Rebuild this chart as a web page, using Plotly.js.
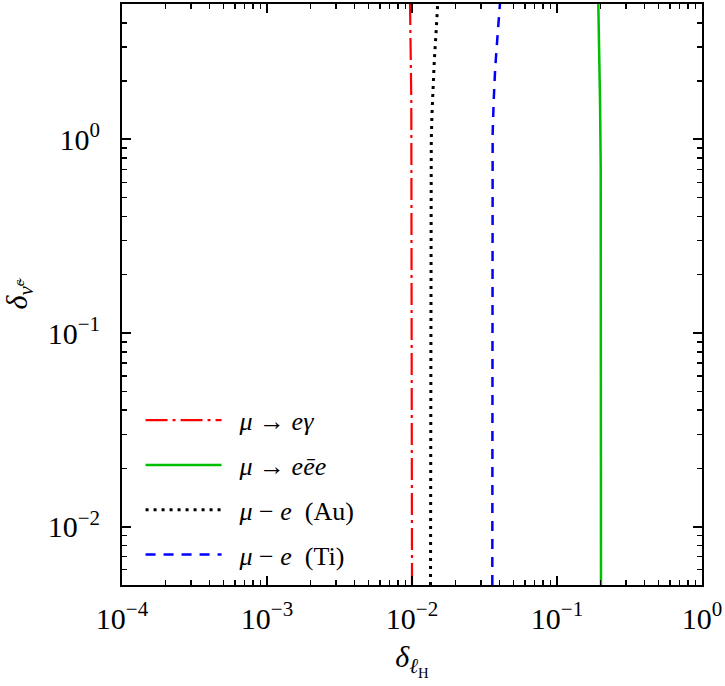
<!DOCTYPE html>
<html>
<head>
<meta charset="utf-8">
<script src="https://cdn.plot.ly/plotly-3.0.1.min.js"></script>
<style>
  html, body { margin: 0; padding: 0; background: #fff; }
  #chart { width: 725px; height: 686px; }
</style>
</head>
<body>
<div id="chart"></div>
<script>
// Exclusion contours in the (delta_lH, delta_nu^c) plane, one curve per process.
// Each curve: x = delta_lH bound as a function of delta_nu^c (y).

// mu -> e gamma
var megY = [0.005, 0.1, 0.5, 1.6, 5];
var megX = [0.0100, 0.0100, 0.00995, 0.00989, 0.00969];

// mu -> e e e
var meeeY = [0.005, 0.1, 0.5, 0.717, 1.59, 3.52, 5];
var meeeX = [0.2011, 0.2011, 0.2011, 0.2002, 0.1980, 0.1949, 0.1927];

// mu - e conversion in gold
var auY = [0.005, 0.1, 0.3, 0.717, 0.99, 1.36, 1.85, 2.55, 3.52, 5];
var auX = [0.01342, 0.01344, 0.01347, 0.01351, 0.01358, 0.01374, 0.01396, 0.01425, 0.01464, 0.01504];

// mu - e conversion in titanium
var tiY = [0.005, 0.1, 0.717, 1.07, 1.59, 2.35, 3.52, 5];
var tiX = [0.0358, 0.0358, 0.0358, 0.0360, 0.0366, 0.0375, 0.0390, 0.0404];

var legendNames = [
  '\u2002<i>μ</i> → <i>eγ</i>',
  '\u2002<i>μ</i> → <i>eēe</i>',
  '\u2002<i>μ</i> − <i>e</i>  (Au)',
  '\u2002<i>μ</i> − <i>e</i>  (Ti)'
];

var xTickVals = [1e-4, 1e-3, 1e-2, 1e-1, 1];
var xTickText = ['10<sup>−4</sup>', '10<sup>−3</sup>', '10<sup>−2</sup>', '10<sup>−1</sup>', '10<sup>0</sup>'];
var yTickVals = [1e-2, 1e-1, 1];
var yTickText = ['10<sup>−2</sup>', '10<sup>−1</sup>', '10<sup>0</sup>'];

// minor tick positions 2..9 within each decade
function minorTicks(lo, hi) {
  var out = [];
  for (var e = lo; e <= hi; e++) {
    for (var k = 2; k <= 9; k++) out.push(k * Math.pow(10, e));
  }
  return out;
}

var FONT = 'Liberation Serif';

var traces = [
  { x: megX, y: megY, name: legendNames[0], legendgroup: 'a',
    mode: 'lines', line: { color: 'rgb(255,0,0)', width: 2.2, dash: '22px,5px,3px,5px' } },
  { x: meeeX, y: meeeY, name: legendNames[1], legendgroup: 'b',
    mode: 'lines', line: { color: 'rgb(0,190,0)', width: 2.5 } },
  { x: auX, y: auY, name: legendNames[2], legendgroup: 'c',
    mode: 'lines', line: { color: 'rgb(0,0,0)', width: 3, dash: '3px,5px' } },
  { x: tiX, y: tiY, name: legendNames[3], legendgroup: 'd',
    mode: 'lines', line: { color: 'rgb(0,0,255)', width: 2.5, dash: '10px,8px' } }
];

var axisCommon = {
  type: 'log',
  showgrid: false,
  zeroline: false,
  showline: true,
  linecolor: 'black',
  linewidth: 2,
  mirror: 'allticks',
  ticks: 'inside',
  ticklen: 9,
  tickwidth: 1.8,
  tickcolor: 'black',
  tickmode: 'array',
  tickfont: { family: FONT, size: 30, color: 'black' }
};

var layout = {
  width: 725,
  height: 686,
  paper_bgcolor: 'white',
  plot_bgcolor: 'white',
  margin: { l: 122, r: 23, t: 4, b: 101 },
  showlegend: true,
  legend: {
    x: 0.032, y: 0.324, xanchor: 'left', yanchor: 'top',
    bgcolor: 'rgba(0,0,0,0)', borderwidth: 0,
    font: { family: FONT, size: 26, color: 'black' },
    itemwidth: 76,
    tracegroupgap: 8,
    traceorder: 'grouped'
  },
  xaxis: Object.assign({}, axisCommon, {
    range: [-4, 0],
    tickvals: xTickVals,
    ticktext: xTickText,
    ticklabelstandoff: 6,
    minor: { tickmode: 'array', tickvals: minorTicks(-4, -1), ticks: 'inside', ticklen: 5, tickwidth: 1.5, tickcolor: 'black' },
    title: { text: '<i>δ</i><sub><i>ℓ</i><sub>H</sub></sub>', font: { family: FONT, size: 30, color: 'black' }, standoff: 12 }
  }),
  yaxis: Object.assign({}, axisCommon, {
    range: [Math.log10(0.005), Math.log10(5)],
    tickvals: yTickVals,
    ticktext: yTickText,
    ticklabelstandoff: 14,
    minor: { tickmode: 'array', tickvals: minorTicks(-3, 0), ticks: 'inside', ticklen: 5, tickwidth: 1.5, tickcolor: 'black' },
    title: { text: '<i>δ</i><sub><i>ν̃</i><sup><i>c</i></sup></sub>', font: { family: FONT, size: 30, color: 'black' }, standoff: 16 }
  })
};

Plotly.newPlot('chart', traces, layout, { displayModeBar: false, staticPlot: true });
</script>
</body>
</html>
